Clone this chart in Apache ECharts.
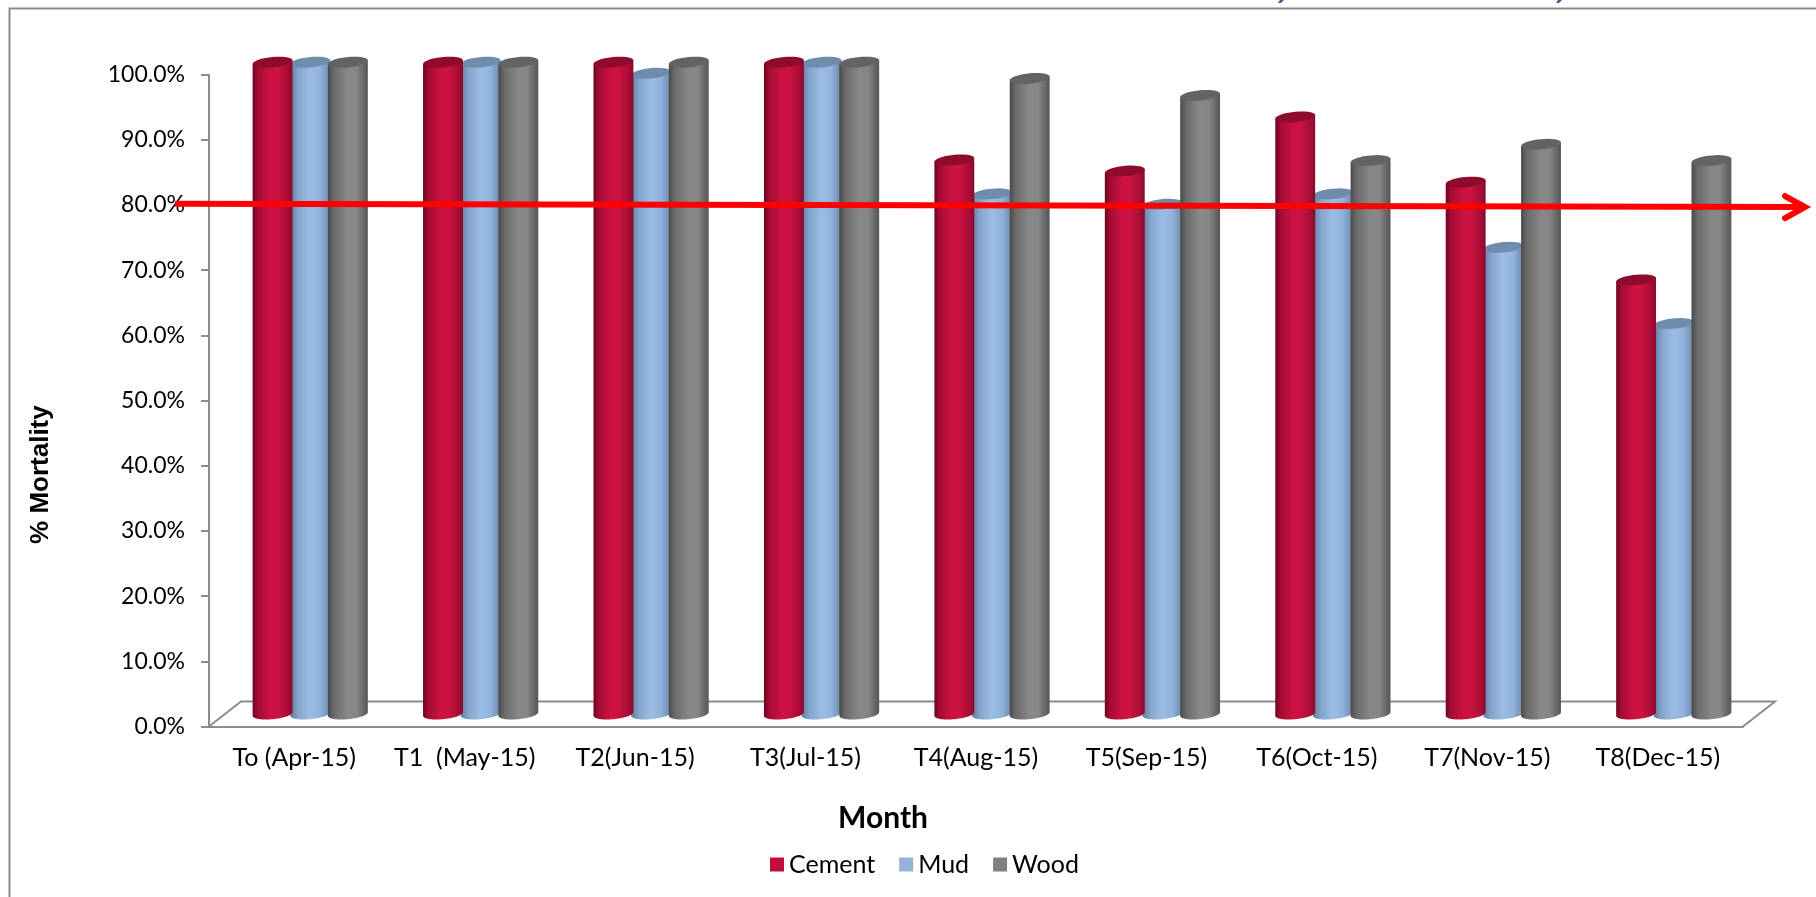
<!DOCTYPE html>
<html>
<head>
<meta charset="utf-8">
<title>Mortality by month</title>
<script src="https://cdn.jsdelivr.net/npm/echarts@6/dist/echarts.min.js"></script>
<style>
  html, body { margin: 0; padding: 0; background: #fff; }
  #chart { width: 1816px; height: 897px; }
</style>
</head>
<body>
<div id="chart"></div>
<script>
const months = ['To (Apr-15)', 'T1  (May-15)', 'T2(Jun-15)', 'T3(Jul-15)', 'T4(Aug-15)',
                'T5(Sep-15)', 'T6(Oct-15)', 'T7(Nov-15)', 'T8(Dec-15)'];
const cement = [100, 100, 100, 100, 85.0, 83.3, 91.6, 81.6, 66.6];
const mud    = [100, 100, 98.3, 100, 79.8, 78.2, 79.8, 71.6, 59.9];
const wood   = [100, 100, 100, 100, 97.5, 94.9, 84.9, 87.4, 84.9];
// Red threshold arrow: level at its tail and at its tip
const thresholdLevels = [80.2, 79.7];

const DEPTH_X = 32, DEPTH_Y = 25;        // oblique offset of the floor's back edge
const STEP_RATIO = 0.221;                // spacing between cylinders, share of a category band
const WIDTH_RATIO = 0.234;               // cylinder diameter, share of a category band
const CAP_RY = 5.2, CAP_SKEW = 0.09;     // cap ellipse: half height and tilt

const palette = {
  Cement: {
    legend: '#C00D3C', cap: '#8E0B2C',
    body: [[0, '#6A0520'], [0.13, '#A30C34'], [0.45, '#CC1240'], [0.62, '#CC1240'], [0.88, '#A90D36'], [1, '#860A2B']]
  },
  Mud: {
    legend: '#95B3D7', cap: '#6F8CAC',
    body: [[0, '#5F7D9F'], [0.2, '#85A5CC'], [0.5, '#9ABDE6'], [0.75, '#90B2DC'], [1, '#6A87A8']]
  },
  Wood: {
    legend: '#808080', cap: '#636363',
    body: [[0, '#4A4A4A'], [0.15, '#6B6B6B'], [0.5, '#888888'], [0.72, '#868686'], [0.9, '#666666'], [1, '#565656']]
  }
};

function ellipsePoint(cx, cy, rx, t) {
  return [cx + rx * Math.cos(t), cy + CAP_RY * Math.sin(t) - CAP_SKEW * rx * Math.cos(t)];
}

// Oblique cylinder standing on the floor mid-way between its front and back edges
function cylinderRenderer(slot, colors) {
  return function (params, api) {
    const band = api.size([1, 0])[0];
    const base = api.coord([api.value(0), 0]);
    const top = api.coord([api.value(0), api.value(1)]);
    const rx = band * WIDTH_RATIO / 2;
    const cx = base[0] + DEPTH_X / 2 + slot * band * STEP_RATIO;
    const yTop = top[1] - DEPTH_Y / 2;
    const yBase = base[1] - DEPTH_Y / 2;
    const outline = [ellipsePoint(cx, yTop, rx, Math.PI), ellipsePoint(cx, yTop, rx, 0)];
    const cap = [];
    for (let i = 0; i <= 36; i++) {
      const t = i / 36 * Math.PI;
      outline.push(ellipsePoint(cx, yBase, rx, t));
      cap.push(ellipsePoint(cx, yTop, rx, t * 2));
    }
    return {
      type: 'group',
      children: [
        {
          type: 'polygon',
          shape: { points: outline },
          style: {
            fill: new echarts.graphic.LinearGradient(0, 0, 1, 0,
              colors.body.map(s => ({ offset: s[0], color: s[1] })))
          }
        },
        { type: 'polygon', shape: { points: cap }, style: { fill: colors.cap } }
      ]
    };
  };
}

function cylinderSeries(name, values, slot, z) {
  return {
    name: name,
    type: 'custom',
    z: z,
    itemStyle: { color: palette[name].legend },
    encode: { x: 0, y: 1 },
    data: values.map((v, i) => [i, v]),
    renderItem: cylinderRenderer(slot, palette[name])
  };
}

const axisGray = '#8C8C8C';
const fontName = 'Lato';

const floorSeries = {
  type: 'custom',
  z: 1,
  silent: true,
  data: [[0, 0]],
  renderItem: function (params, api) {
    const g = params.coordSys;
    const y0 = g.y + g.height, x1 = g.x + g.width;
    return {
      type: 'polyline',
      shape: { points: [[g.x, y0], [g.x + DEPTH_X, y0 - DEPTH_Y], [x1 + DEPTH_X, y0 - DEPTH_Y], [x1, y0]] },
      style: { stroke: axisGray, lineWidth: 2, fill: null }
    };
  }
};

const arrowSeries = {
  type: 'custom',
  z: 6,
  silent: true,
  data: [thresholdLevels],
  renderItem: function (params, api) {
    const g = params.coordSys;
    const yTail = api.coord([0, api.value(0)])[1];
    const yTip = api.coord([0, api.value(1)])[1];
    const xTail = g.x - 34, xTip = g.x + g.width + 64;
    const line = { stroke: '#FF0000', lineWidth: 6, lineCap: 'round', lineJoin: 'miter', fill: null };
    return {
      type: 'group',
      children: [
        { type: 'line', shape: { x1: xTail, y1: yTail, x2: xTip - 2, y2: yTip }, style: { stroke: '#FF0000', lineWidth: 6 } },
        { type: 'polyline', shape: { points: [[xTip - 22, yTip - 11], [xTip - 2, yTip], [xTip - 22, yTip + 11]] }, style: line }
      ]
    };
  }
};

const chart = echarts.init(document.getElementById('chart'), null, { renderer: 'canvas' });
chart.setOption({
  animation: false,
  backgroundColor: '#FFFFFF',
  textStyle: { fontFamily: fontName, color: '#000' },
  grid: { left: 209, right: 73, top: 74.7, bottom: 170.5, containLabel: false },
  legend: {
    data: ['Cement', 'Mud', 'Wood'],
    left: 765,
    top: 847,
    icon: 'rect',
    itemWidth: 14,
    itemHeight: 14,
    itemGap: 24,
    textStyle: { fontFamily: fontName, fontSize: 25, color: '#000' }
  },
  xAxis: {
    type: 'category',
    data: months,
    axisLine: { lineStyle: { color: axisGray, width: 2 } },
    axisTick: { length: 7, lineStyle: { color: axisGray, width: 2 } },
    axisLabel: { fontFamily: fontName, fontSize: 25, color: '#000', margin: 19, interval: 0 },
    name: 'Month',
    nameLocation: 'middle',
    nameGap: 77,
    nameTextStyle: { fontFamily: fontName, fontSize: 30, fontWeight: 'bold', color: '#000', padding: [0, 186, 0, 0] }
  },
  yAxis: {
    type: 'value',
    min: 0,
    max: 100,
    interval: 10,
    splitLine: { show: false },
    axisLine: { show: true, lineStyle: { color: axisGray, width: 2 } },
    axisTick: { show: true, length: 8, lineStyle: { color: axisGray, width: 2 } },
    axisLabel: { fontFamily: fontName, fontSize: 23, color: '#000', margin: 24, padding: [3, 0, 0, 0], formatter: v => v.toFixed(1) + '%' },
    name: '% Mortality',
    nameLocation: 'middle',
    nameGap: 155,
    nameRotate: 90,
    nameTextStyle: { fontFamily: 'Liberation Sans', fontSize: 26, fontWeight: 'bold', color: '#000', padding: [0, 148, 0, 0] }
  },
  graphic: [
    // Chart frame, open on the right and bottom
    {
      type: 'polyline',
      z: 0,
      silent: true,
      shape: { points: [[9.5, 897], [9.5, 8.5], [1816, 8.5]] },
      style: { stroke: '#8A8A8A', lineWidth: 2, fill: null }
    },
    // Descenders of the caption running above the frame
    { type: 'polygon', silent: true, shape: { points: [[1280, 0], [1284, 0], [1281, 3], [1278, 3]] }, style: { fill: '#3A5F95' } },
    { type: 'polygon', silent: true, shape: { points: [[1558, 0], [1562, 0], [1559, 3], [1556, 3]] }, style: { fill: '#3A5F95' } }
  ],
  series: [
    floorSeries,
    cylinderSeries('Mud', mud, 0, 2),
    cylinderSeries('Cement', cement, -1, 3),
    cylinderSeries('Wood', wood, 1, 3),
    arrowSeries
  ]
});
</script>
</body>
</html>
